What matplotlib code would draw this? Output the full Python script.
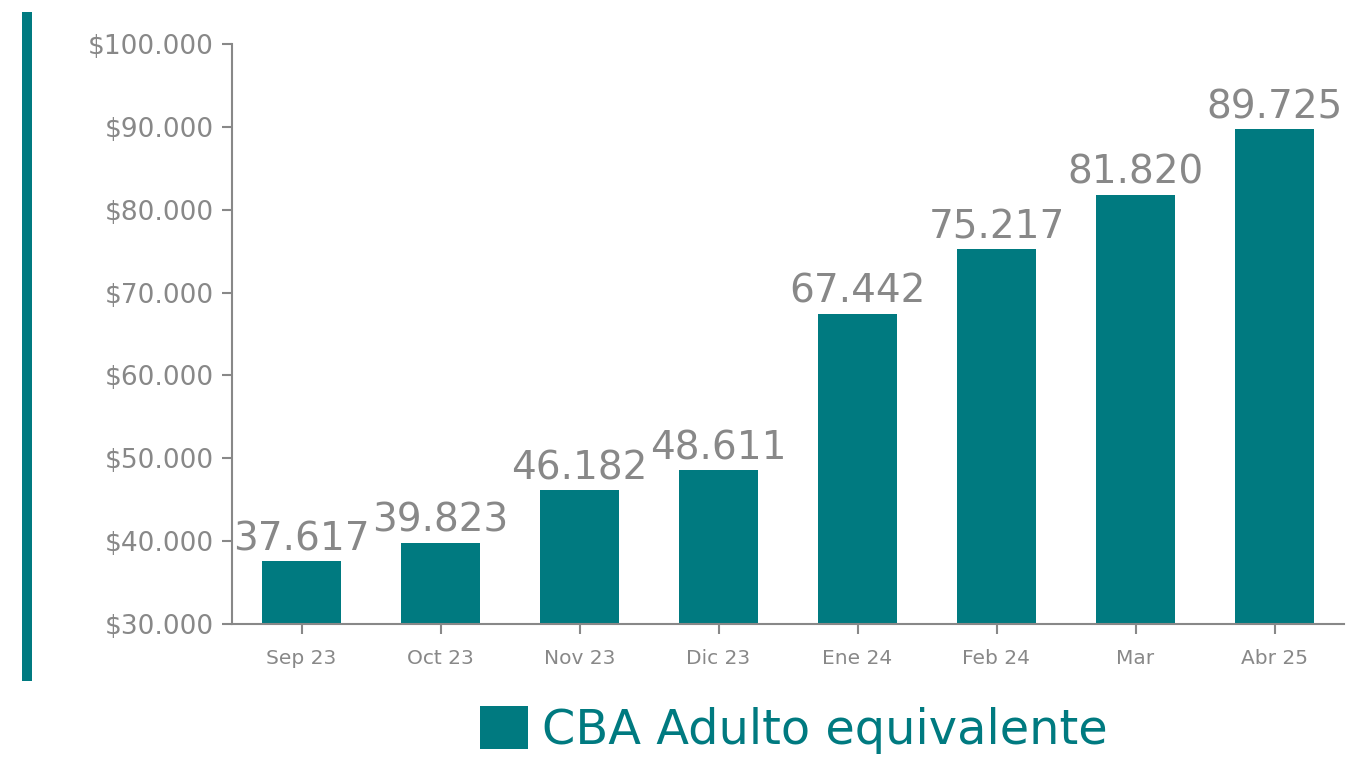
import matplotlib
matplotlib.use("Agg")
import matplotlib.pyplot as plt
from matplotlib.patches import Rectangle
from matplotlib.ticker import FuncFormatter, MultipleLocator

categories = ["Sep 23", "Oct 23", "Nov 23", "Dic 23", "Ene 24", "Feb 24", "Mar", "Abr 25"]
values = [37617, 39823, 46182, 48611, 67442, 75217, 81820, 89725]
series_name = "CBA Adulto equivalente"

TEAL = "#007A80"
GREY = "#888888"
plt.rcParams['font.family'] = ['DejaVu Sans']

W, H = 1366, 760
fig = plt.figure(figsize=(W / 100, H / 100), dpi=100)
ax = fig.add_axes([232 / W, (H - 624) / H, 1112 / W, 580 / H])

x = list(range(len(categories)))
bars = ax.bar(x, values, width=0.575, color=TEAL, label=series_name, zorder=2)

def fmt_dot(v):
    return f"{int(round(v)):,}".replace(",", ".")

for xi, v in zip(x, values):
    ax.annotate(fmt_dot(v), (xi, v), xytext=(0, 2), textcoords="offset points",
                ha="center", va="bottom", fontsize=28, color=GREY)

ax.set_xlim(-0.5, len(categories) - 0.5)
ax.set_ylim(30000, 100000)
ax.yaxis.set_major_locator(MultipleLocator(10000))
ax.yaxis.set_major_formatter(FuncFormatter(lambda v, p: "$" + fmt_dot(v)))
ax.set_xticks(x)
ax.set_xticklabels(categories)

for side in ["top", "right"]:
    ax.spines[side].set_visible(False)
for side in ["left", "bottom"]:
    ax.spines[side].set_color(GREY)
    ax.spines[side].set_linewidth(1.5)

ax.tick_params(axis="y", colors=GREY, labelsize=19, length=7, width=1.5, pad=6)
ax.tick_params(axis="x", colors=GREY, labelsize=14.5, length=7, width=1.5, pad=11)

fig.add_artist(Rectangle((22 / W, (H - 681) / H), 10 / W, 669 / H,
                         transform=fig.transFigure, color=TEAL, lw=0))

leg = fig.legend(loc="center", bbox_to_anchor=(794 / W, 1 - 730 / H), frameon=False,
                 fontsize=34.5, handlelength=1.0, handleheight=1.0, handletextpad=0.3,
                 labelcolor=TEAL)

fig.savefig("out.png", dpi=100, facecolor="white")
